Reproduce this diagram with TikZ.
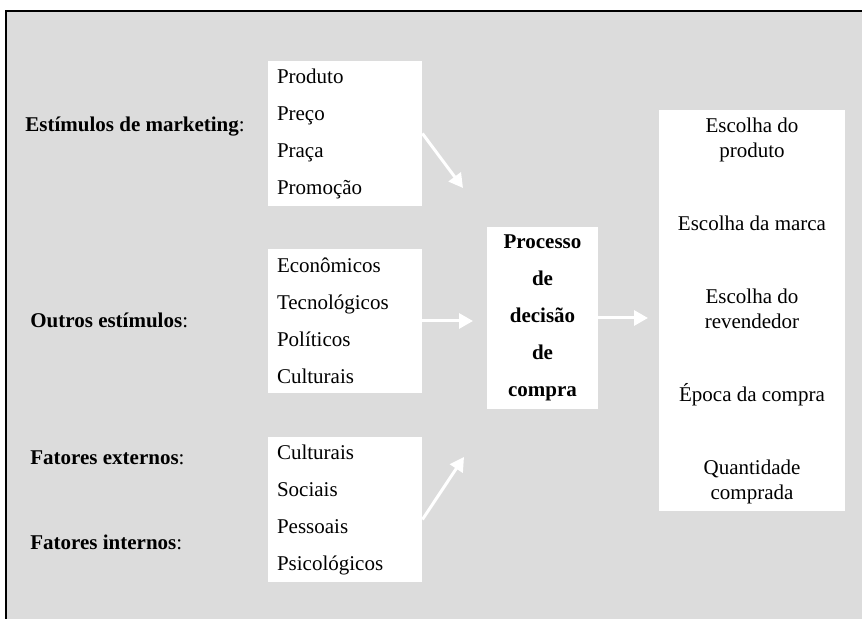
\documentclass[tikz,border=0pt]{standalone}
\usepackage{fontspec}
\setmainfont{Liberation Serif}
\usetikzlibrary{arrows.meta}
\definecolor{bggray}{RGB}{220,220,220}

\begin{document}
\begin{tikzpicture}[
  x=0.5pt, y=-0.5pt,
  every node/.style={font=\fontsize{10.5}{18.5}\selectfont},
  lst/.style={fill=white, inner xsep=4.5pt, inner ysep=0pt, text width=68pt,
    align=left, minimum height=72.5pt},
  lbl/.style={anchor=west, inner sep=0pt},
  arr/.style={draw=white, line width=1.5pt, -{Triangle[length=7pt, width=7.5pt]}}
]
\useasboundingbox (0,0) rectangle (862,619);
\fill [bggray] (6,11) rectangle (862,619);
\draw [line width=1pt] (862,11) -- (6,11) -- (6,619);

% stimulus lists
\node [lst] (mkt) at (345,133.5) {Produto\\Preço\\Praça\\Promoção};
\node [lst, minimum height=72pt] (outros) at (345,321) {Econômicos\\Tecnológicos\\Políticos\\Culturais};
\node [lst] (fat) at (345,509.5) {Culturais\\Sociais\\Pessoais\\Psicológicos};

% decision process
\node [fill=white, minimum width=55.5pt, minimum height=91pt, align=center,
  font=\bfseries\fontsize{10.5}{18.5}\selectfont] (proc) at (542.5,318)
  {Processo\\de\\decisão\\de\\compra};

% choices
\node [fill=white, minimum width=93pt, minimum height=200.5pt, align=center,
  font=\fontsize{10.5}{12.5}\selectfont] (esc) at (752,310.5)
  {Escolha do\\produto\\[24pt]Escolha da marca\\[24pt]Escolha do\\revendedor\\[24pt]Época da compra\\[24pt]Quantidade\\comprada};

% left labels
\node [lbl] (lmkt) at (25,127) {\textbf{Estímulos de marketing}:};
\node [lbl] (lout) at (30,320) {\textbf{Outros estímulos}:};
\node [lbl] (lext) at (30,458) {\textbf{Fatores externos}:};
\node [lbl] (lint) at (30,542) {\textbf{Fatores internos}:};

% arrows
\coordinate (t1) at (463,188);
\coordinate (t2) at (473,321);
\coordinate (t3) at (648,318);
\coordinate (t4) at (464,457);
\draw [arr] (mkt.east) -- (t1);
\draw [arr] (outros.east) -- (t2);
\draw [arr] (proc.east) -- (t3);
\draw [arr] ([yshift=-5pt]fat.east) -- (t4);
\end{tikzpicture}
\end{document}
